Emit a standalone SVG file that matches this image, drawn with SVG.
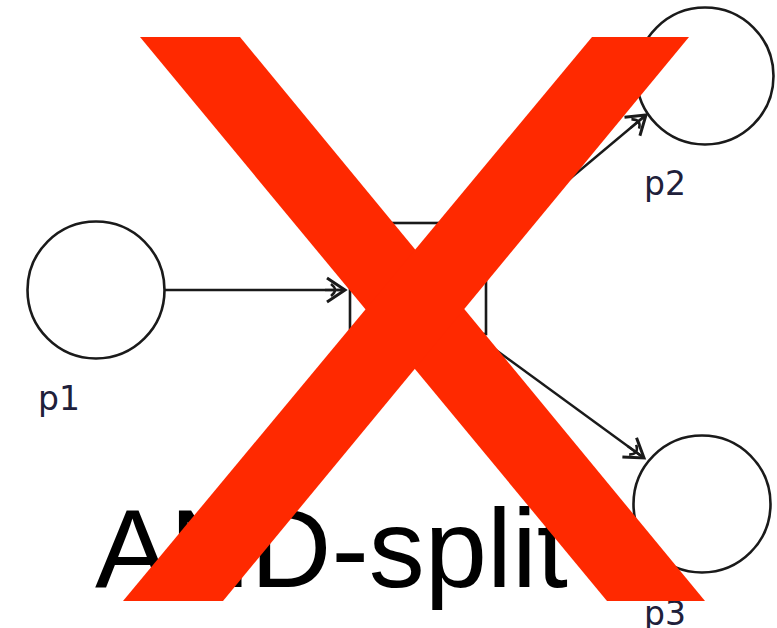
<svg xmlns="http://www.w3.org/2000/svg" width="777" height="628" viewBox="0 0 777 628">
  <style>
    .place { fill: #ffffff; stroke: #1a1a1a; stroke-width: 2.6; }
    .trans { fill: #ffffff; stroke: #1a1a1a; stroke-width: 2.6; }
    .edge { fill: none; stroke: #1a1a1a; stroke-width: 2.4; marker-end: url(#arr); }
    .lbl { font-family: "DejaVu Sans", Verdana, sans-serif; font-size: 33px; fill: #20203a; }
    .title { font-family: "Liberation Sans", Arial, sans-serif; font-size: 112px; fill: #000000; }
    .cross { fill: #ff2900; }
  </style>
  <defs>
    <marker id="arr" markerUnits="userSpaceOnUse" markerWidth="40" markerHeight="40" refX="30" refY="20" orient="auto" viewBox="0 0 40 40">
      <path d="M12,8 L30,20 L12,32" fill="none" stroke="#1a1a1a" stroke-width="3" stroke-linejoin="miter"/>
      <path d="M16,14 Q24,20 16,26" fill="none" stroke="#1a1a1a" stroke-width="2.6"/>
      <path d="M10,20 L28,20" fill="none" stroke="#1a1a1a" stroke-width="2.4"/>
    </marker>
  </defs>

  <g id="connectors">
    <line class="edge" x1="165" y1="290" x2="345" y2="290"/>
    <line class="edge" x1="486" y1="249" x2="646" y2="115"/>
    <line class="edge" x1="474" y1="334" x2="644" y2="458"/>
  </g>

  <g id="p1">
    <circle class="place" cx="96" cy="290" r="68.5"/>
    <text class="lbl" x="38" y="410">p1</text>
  </g>
  <g id="t1">
    <rect class="trans" x="350" y="223" width="136" height="111"/>
  </g>
  <g id="p2">
    <circle class="place" cx="705" cy="76" r="68.5"/>
    <text class="lbl" x="644" y="195">p2</text>
  </g>
  <g id="p3">
    <circle class="place" cx="702" cy="504" r="68.5"/>
    <text class="lbl" x="644" y="625">p3</text>
  </g>

  <g id="caption">
    <text class="title" x="95" y="587">AND-split</text>
  </g>

  <g id="cross">
    <polygon class="cross" points="140,37 240,37 705,601 607,601"/>
    <polygon class="cross" points="592,37 689,37 223,601 123,601"/>
  </g>
</svg>
